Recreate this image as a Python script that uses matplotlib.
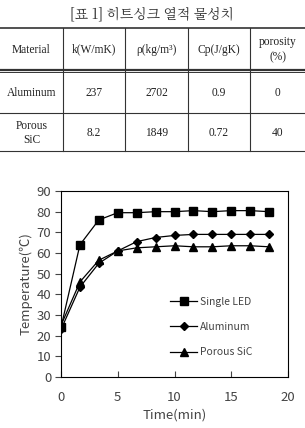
import numpy as np
import matplotlib.pyplot as plt
from matplotlib.lines import Line2D

# table data
tbl_title = "[표 1] 히트싱크 열적 물성치"
tbl_cols = ["Material", "k(W/mK)", "ρ(kg/m³)", "Cp(J/gK)", "porosity\n(%)"]
tbl_rows = [["Aluminum", "237", "2702", "0.9", "0"],
            ["Porous\nSiC", "8.2", "1849", "0.72", "40"]]

# chart data (time in min, temperature in C)
time = [0, 1.67, 3.33, 5, 6.67, 8.33, 10, 11.67, 13.33, 15, 16.67, 18.33]
single_led = [24, 64, 76, 79.5, 79.5, 80, 80, 80.5, 80, 80.5, 80.5, 80]
aluminum = [23, 43.5, 55, 61, 65.5, 67.5, 68.5, 69, 69, 69, 69, 69]
porous_sic = [25, 46, 56.5, 61, 62.5, 63, 63.5, 63, 63, 63.5, 63.5, 63]

plt.rcParams['font.family'] = ['Noto Sans CJK KR', 'DejaVu Sans']
W, H = 305, 428
fig = plt.figure(figsize=(W / 100, H / 100), dpi=100)

# table drawn in pixel coords
tax = fig.add_axes([0, 0, 1, 1])
tax.set_xlim(0, W)
tax.set_ylim(H, 0)
tax.axis('off')
tax.text(152, 15, tbl_title, ha='center', va='center', fontsize=10,
         color='#333333', family=['Noto Serif CJK KR', 'Noto Sans CJK KR', 'DejaVu Serif'])
col_edges = [0, 63, 125, 188, 250, 305]
row_edges = [28, 71, 113, 151]
lc = '#333333'
tax.add_line(Line2D([0, W], [row_edges[0]] * 2, color=lc, lw=1.2))
tax.add_line(Line2D([0, W], [row_edges[1] - 1.2] * 2, color=lc, lw=1.6))
tax.add_line(Line2D([0, W], [row_edges[1] + 1.0] * 2, color=lc, lw=0.7))
tax.add_line(Line2D([0, W], [row_edges[2]] * 2, color=lc, lw=0.8))
tax.add_line(Line2D([0, W], [row_edges[3]] * 2, color=lc, lw=0.8))
for xe in col_edges[1:-1]:
    tax.add_line(Line2D([xe, xe], [row_edges[0], row_edges[3]], color=lc, lw=0.8))
serif = ['Liberation Serif', 'DejaVu Serif']
for j, c in enumerate(tbl_cols):
    xc = (col_edges[j] + col_edges[j + 1]) / 2
    tax.text(xc, (row_edges[0] + row_edges[1]) / 2, c, ha='center', va='center',
             fontsize=8.3, family=serif, color='#222222', linespacing=1.35)
for i, row in enumerate(tbl_rows):
    yc = (row_edges[i + 1] + row_edges[i + 2]) / 2 + 1
    for j, v in enumerate(row):
        xc = (col_edges[j] + col_edges[j + 1]) / 2
        tax.text(xc, yc, v, ha='center', va='center', fontsize=8.3,
                 family=serif, color='#222222', linespacing=1.3)

# chart
ax = fig.add_axes([61 / W, 1 - 377 / H, 227 / W, 186 / H])
ax.plot(time, single_led, '-s', color='black', lw=0.9, ms=6, label='Single LED')
ax.plot(time, aluminum, '-D', color='black', lw=0.9, ms=4, label='Aluminum')
ax.plot(time, porous_sic, '-^', color='black', lw=0.9, ms=6, label='Porous SiC')
ax.set_xlim(0, 20)
ax.set_ylim(0, 90)
ax.set_xticks([0, 5, 10, 15, 20])
ax.set_yticks(range(0, 91, 10))
ax.tick_params(axis='x', direction='in', length=4, labelsize=9.5, pad=10, colors='#444444')
ax.tick_params(axis='y', direction='out', length=4, labelsize=9.5, pad=3, colors='#444444')
for s in ax.spines.values():
    s.set_linewidth(0.8)
ax.set_xlabel('Time(min)', fontsize=9.5, color='#444444', labelpad=3)
ax.set_ylabel('Temperature(℃)', fontsize=9.5, color='#444444', labelpad=3)
ax.legend(loc='upper left', bbox_to_anchor=(0.48, 0.43), frameon=False, fontsize=7.5,
          handlelength=2.6, labelspacing=1.45, handletextpad=0.3, labelcolor='#444444',
          borderpad=0, borderaxespad=0, markerscale=0.9)

fig.savefig('out.png', dpi=100)
